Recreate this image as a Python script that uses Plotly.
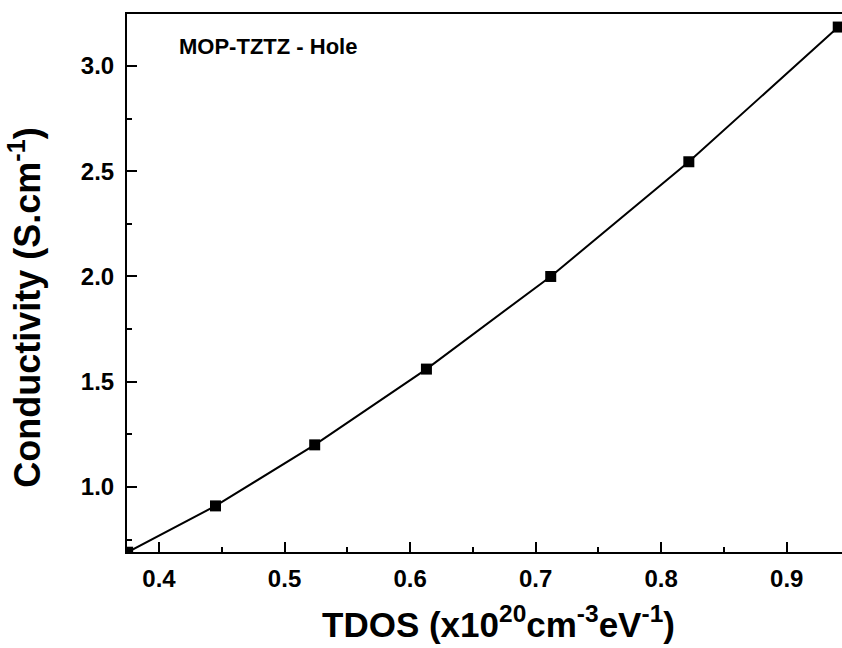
import plotly.graph_objects as go

tdos = [0.375, 0.445, 0.524, 0.613, 0.712, 0.822, 0.941]
conductivity = [0.69, 0.91, 1.20, 1.56, 2.00, 2.545, 3.185]

x_ticks = [0.4, 0.5, 0.6, 0.7, 0.8, 0.9]
y_ticks = [1.0, 1.5, 2.0, 2.5, 3.0]
top_ticks = [0.4151 + k * 0.04167 for k in range(13)]

FONT = "Liberation Sans, Arial, sans-serif"

fig = go.Figure()
fig.add_trace(go.Scatter(
    x=tdos, y=conductivity, mode="lines+markers",
    line=dict(color="black", width=2),
    marker=dict(symbol="square", size=11, color="black"),
    showlegend=False, cliponaxis=True,
))

fig.update_layout(
    width=842, height=648,
    margin=dict(l=127, r=0, t=14, b=96),
    paper_bgcolor="white", plot_bgcolor="white",
    font=dict(family=FONT, color="black"),
    xaxis=dict(
        range=[0.3745, 0.944], tickvals=x_ticks,
        ticktext=[f"{v:.1f}" for v in x_ticks],
        ticks="inside", ticklen=10, tickwidth=2, tickcolor="black",
        minor=dict(dtick=0.05, tick0=0.35, ticks="inside", ticklen=5, tickwidth=2, tickcolor="black"),
        showline=True, linecolor="black", linewidth=2, mirror=True,
        showgrid=False, zeroline=False,
        tickfont=dict(size=24, family=FONT, weight="bold"),
        ticklabelstandoff=4,
    ),
    xaxis2=dict(
        overlaying="x", side="top", range=[0.3745, 0.944], tickvals=top_ticks,
        showticklabels=False, ticks="outside", ticklen=3, tickwidth=1, tickcolor="#555",
        showgrid=False, zeroline=False, showline=False,
    ),
    yaxis=dict(
        range=[0.691, 3.247], tickvals=y_ticks,
        ticktext=[f"{v:.1f}" for v in y_ticks],
        ticks="inside", ticklen=10, tickwidth=2, tickcolor="black",
        minor=dict(dtick=0.25, tick0=0.75, ticks="inside", ticklen=5, tickwidth=2, tickcolor="black"),
        showline=True, linecolor="black", linewidth=2, mirror=False,
        showgrid=False, zeroline=False,
        tickfont=dict(size=24, family=FONT, weight="bold"),
        ticklabelstandoff=6,
    ),
    annotations=[
        dict(text="MOP-TZTZ - Hole", xref="paper", yref="paper",
             x=0.07, y=0.94, xanchor="left", yanchor="middle", showarrow=False,
             font=dict(size=22, family=FONT, weight="bold", color="black")),
        dict(text="TDOS (x10<sup>20</sup>cm<sup>-3</sup>eV<sup>-1</sup>)",
             xref="paper", yref="paper", x=0.52, y=-0.13,
             xanchor="center", yanchor="middle", showarrow=False,
             font=dict(size=35, family=FONT, weight="bold", color="black")),
        dict(text="Conductivity (S.cm<sup>-1</sup>)",
             xref="paper", yref="paper", x=-0.142, y=0.455, textangle=-90,
             xanchor="center", yanchor="middle", showarrow=False,
             font=dict(size=36, family=FONT, weight="bold", color="black")),
    ],
)

fig.write_html("out.html")
